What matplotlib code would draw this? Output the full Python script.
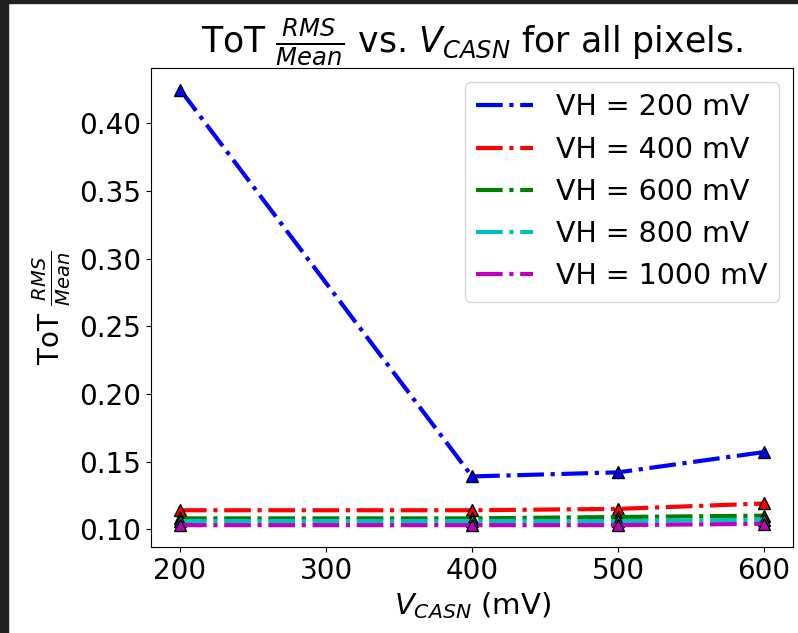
import matplotlib
matplotlib.use("Agg")
import matplotlib.pyplot as plt
from matplotlib.patches import Rectangle

vcasn = [200, 400, 500, 600]
vh_labels = ["VH = 200 mV", "VH = 400 mV", "VH = 600 mV", "VH = 800 mV", "VH = 1000 mV"]
colors = ["b", "r", "g", "c", "m"]

rms_vh200 = [0.425, 0.139, 0.142, 0.157]
rms_vh400 = [0.114, 0.114, 0.115, 0.119]
rms_vh600 = [0.108, 0.108, 0.109, 0.110]
rms_vh800 = [0.106, 0.106, 0.106, 0.107]
rms_vh1000 = [0.103, 0.103, 0.103, 0.104]
series = [rms_vh200, rms_vh400, rms_vh600, rms_vh800, rms_vh1000]

fig = plt.figure(figsize=(7.98, 6.33), dpi=100)
ax = fig.add_axes([0.189, 0.136, 0.805, 0.757])

for vals, c, lab in zip(series, colors, vh_labels):
  ax.plot(vcasn, vals, linestyle="-.", color=c, linewidth=3, label=lab)
  ax.plot(vcasn, vals, linestyle="none", marker="^", markersize=9,
          markeredgecolor="k", markerfacecolor=c)

ax.set_xticks([200, 300, 400, 500, 600])
ax.set_yticks([0.10, 0.15, 0.20, 0.25, 0.30, 0.35, 0.40])
ax.tick_params(labelsize=20)
ax.set_title(r"ToT $\frac{RMS}{Mean}$ vs. $V_{CASN}$ for all pixels.", fontsize=25)
ax.set_xlabel(r"$V_{CASN}$ (mV)", fontsize=21)
ax.set_ylabel(r"ToT $\frac{RMS}{Mean}$", fontsize=20)
ax.legend(loc="upper right", fontsize=20.5)

# dark screenshot border on left and top
fig.patches.append(Rectangle((0, 0), 8 / 798, 1, transform=fig.transFigure,
                             color="#202020", zorder=10))
fig.patches.append(Rectangle((0, 1 - 3 / 633), 1, 3 / 633, transform=fig.transFigure,
                             color="#202020", zorder=10))

fig.savefig("out.png", dpi=100)
